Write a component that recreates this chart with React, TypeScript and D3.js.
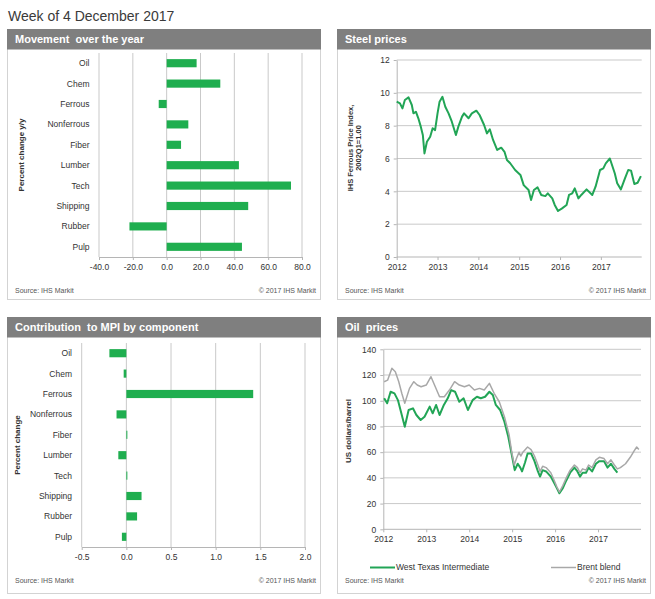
import React, { useEffect, useRef } from "react";
import * as d3 from "d3";

// ---- data ----
const components = [
  "Oil",
  "Chem",
  "Ferrous",
  "Nonferrous",
  "Fiber",
  "Lumber",
  "Tech",
  "Shipping",
  "Rubber",
  "Pulp",
];
const movementYoY = [17.7, 31.7, -4.7, 12.8, 8.5, 42.7, 73.5, 48.2, -22.0, 44.5];
const movementTicks = [-40, -20, 0, 20, 40, 60, 80];

const mpiContribution = [-0.19, -0.03, 1.42, -0.11, 0.01, -0.09, 0.005, 0.17, 0.12, -0.05];
const mpiTicks = [-0.5, 0, 0.5, 1.0, 1.5, 2.0];

const yearTicks = [2012, 2013, 2014, 2015, 2016, 2017];

const steelYears = [
  2012.0, 2012.08, 2012.14, 2012.2, 2012.29, 2012.37, 2012.41, 2012.47, 2012.53, 2012.59,
  2012.64, 2012.68, 2012.74, 2012.82, 2012.88, 2012.94, 2013.0, 2013.05, 2013.12, 2013.19,
  2013.27, 2013.35, 2013.45, 2013.51, 2013.6, 2013.65, 2013.76, 2013.84, 2013.95, 2014.03,
  2014.14, 2014.21, 2014.28, 2014.36, 2014.46, 2014.56, 2014.64, 2014.7, 2014.78, 2014.9,
  2015.03, 2015.11, 2015.23, 2015.29, 2015.36, 2015.45, 2015.54, 2015.64, 2015.7, 2015.81,
  2015.87, 2015.95, 2016.05, 2016.16, 2016.22, 2016.3, 2016.36, 2016.45, 2016.52, 2016.65,
  2016.79, 2016.87, 2016.98, 2017.06, 2017.12, 2017.22, 2017.34, 2017.4, 2017.49, 2017.59,
  2017.67, 2017.74, 2017.82, 2017.9, 2017.98,
];
const steelIndex = [
  9.46, 9.36, 9.05, 9.56, 9.72, 9.26, 8.75, 8.85, 8.45, 7.94,
  7.43, 6.31, 7.02, 7.33, 7.84, 7.73, 8.75, 9.46, 9.76, 9.15,
  8.75, 8.24, 7.43, 7.94, 8.55, 8.75, 8.45, 8.75, 8.91, 8.65,
  8.04, 7.53, 7.78, 7.13, 6.52, 6.66, 6.41, 5.91, 5.71, 5.3,
  5.0, 4.38, 4.08, 3.47, 4.08, 4.24, 3.78, 3.71, 3.88, 3.57,
  3.17, 2.8, 2.96, 3.17, 3.78, 3.88, 4.18, 3.57, 3.78, 4.12,
  3.78, 4.28, 5.3, 5.4, 5.7, 6.0, 5.1, 4.49, 4.12, 4.79,
  5.3, 5.26, 4.45, 4.52, 4.93,
];
const steelTicks = [0, 2, 4, 6, 8, 10, 12];

const wtiYears = [
  2012.02, 2012.09, 2012.17, 2012.26, 2012.34, 2012.42, 2012.5, 2012.59, 2012.69, 2012.77,
  2012.87, 2012.96, 2013.08, 2013.15, 2013.23, 2013.31, 2013.41, 2013.5, 2013.58, 2013.67,
  2013.77, 2013.87, 2013.97, 2014.08, 2014.18, 2014.27, 2014.37, 2014.47, 2014.55, 2014.62,
  2014.72, 2014.82, 2014.91, 2014.97, 2015.06, 2015.13, 2015.19, 2015.23, 2015.3, 2015.36,
  2015.44, 2015.52, 2015.6, 2015.65, 2015.71, 2015.79, 2015.9, 2015.98, 2016.04, 2016.1,
  2016.18, 2016.26, 2016.35, 2016.45, 2016.52, 2016.58, 2016.64, 2016.72, 2016.78, 2016.86,
  2016.95, 2017.03, 2017.14, 2017.22, 2017.3, 2017.38, 2017.45,
];
const wtiPrices = [
  101.9, 98, 107, 105.7, 100.5, 90.2, 79.8, 92.8, 94.1, 88.9,
  85, 87.6, 95.4, 90.2, 96.7, 88.9, 96.7, 101.9, 108.3, 107,
  99.2, 101.9, 92.8, 100.5, 103.1, 101.9, 103.1, 107, 104.4, 96.7,
  92.8, 83.7, 72, 61.7, 46, 51, 48, 45, 52, 59,
  59, 53, 45, 41, 46, 45, 41, 36, 32, 28,
  32, 38, 44, 48, 45, 41, 44, 44, 48, 45,
  51, 53, 53, 48, 51, 47, 44,
];

const brentYears = [
  2012.02, 2012.1, 2012.2, 2012.28, 2012.36, 2012.43, 2012.5, 2012.61, 2012.71, 2012.79,
  2012.88, 2013.0, 2013.11, 2013.21, 2013.31, 2013.42, 2013.54, 2013.66, 2013.77, 2013.89,
  2014.0, 2014.12, 2014.24, 2014.35, 2014.47, 2014.58, 2014.7, 2014.82, 2014.93, 2014.99,
  2015.05, 2015.1, 2015.16, 2015.2, 2015.25, 2015.36, 2015.44, 2015.52, 2015.6, 2015.65,
  2015.71, 2015.79, 2015.9, 2015.98, 2016.04, 2016.1, 2016.18, 2016.26, 2016.35, 2016.45,
  2016.52, 2016.58, 2016.64, 2016.72, 2016.78, 2016.86, 2016.95, 2017.03, 2017.14, 2017.22,
  2017.3, 2017.38, 2017.45, 2017.52, 2017.64, 2017.75, 2017.84, 2017.9, 2017.95,
];
const brentPrices = [
  114.8, 116, 125.2, 122.6, 114.8, 105.8, 98, 109.6, 114.8, 112.2,
  110.9, 112.2, 118.7, 110.9, 103.1, 103.1, 108.3, 114.8, 112.2, 110.9,
  112.2, 108.3, 109.6, 108.3, 113.5, 105.8, 99.2, 87.6, 73.3, 60,
  50, 55, 60, 57, 60, 64, 62, 57, 50, 45,
  49, 48, 44, 38, 33, 29, 34, 40, 46, 50,
  48, 44, 47, 46, 50, 48, 54, 56, 55, 51,
  54, 50, 47, 48, 51, 56, 61, 64, 62,
];
const oilTicks = [0, 20, 40, 60, 80, 100, 120, 140];

// ---- styles ----
const FONT = "'Liberation Sans', Arial, Helvetica, sans-serif";
const BAR_GREEN = "#1fae4f";
const LINE_GREEN = "#22a556";
const BRENT_GRAY = "#a8a8a8";
const GRID = "#c9c9c9";
const AXIS = "#b5b5b5";
const TEXT = "#333333";
const HEADER = "#7f7f7f";

type Sel = d3.Selection<SVGSVGElement, unknown, null, undefined>;

function drawPanel(
  svg: Sel,
  x0: number,
  y0: number,
  x1: number,
  y1: number,
  title: string,
  footerY: number
) {
  const g = svg.append("g");
  g.append("rect")
    .attr("x", x0 + 0.5)
    .attr("y", y0 + 0.5)
    .attr("width", x1 - x0)
    .attr("height", y1 - y0)
    .attr("fill", "white")
    .attr("stroke", "#d3d3d3");
  g.append("rect")
    .attr("x", x0)
    .attr("y", y0)
    .attr("width", x1 - x0 + 1)
    .attr("height", 20.5)
    .attr("fill", HEADER);
  g.append("text")
    .attr("x", x0 + 8)
    .attr("y", y0 + 14)
    .attr("fill", "white")
    .attr("font-size", 11)
    .attr("font-weight", "bold")
    .style("white-space", "pre")
    .text(title);
  g.append("text")
    .attr("x", x0 + 8)
    .attr("y", footerY)
    .attr("fill", "#555")
    .attr("font-size", 7)
    .text("Source: IHS Markit");
  g.append("text")
    .attr("x", x1 - 4)
    .attr("y", footerY)
    .attr("text-anchor", "end")
    .attr("fill", "#555")
    .attr("font-size", 7)
    .text("\u00a9 2017 IHS Markit");
}

function styleAxis(g: d3.Selection<SVGGElement, unknown, null, undefined>) {
  g.select(".domain").attr("stroke", AXIS);
  g.selectAll(".tick line").attr("stroke", AXIS);
  g.selectAll(".tick text")
    .attr("fill", TEXT)
    .attr("font-size", 8.5)
    .attr("font-family", FONT);
}

function drawBars(
  svg: Sel,
  values: number[],
  ticks: number[],
  xRange: [number, number],
  yRange: [number, number],
  labelRight: number,
  titleX: number,
  title: string
) {
  const x = d3
    .scaleLinear()
    .domain([ticks[0], ticks[ticks.length - 1]])
    .range(xRange);
  const y = d3
    .scaleBand<string>()
    .domain(components)
    .range(yRange)
    .paddingInner(0.6)
    .paddingOuter(0.3);

  const g = svg.append("g");

  g.append("g")
    .selectAll("line")
    .data(ticks)
    .join("line")
    .attr("x1", (d) => x(d))
    .attr("x2", (d) => x(d))
    .attr("y1", yRange[0])
    .attr("y2", yRange[1])
    .attr("stroke", GRID);

  g.append("g")
    .selectAll("rect")
    .data(values)
    .join("rect")
    .attr("x", (d) => x(Math.min(0, d)))
    .attr("width", (d) => Math.max(1, Math.abs(x(d) - x(0))))
    .attr("y", (_, i) => y(components[i])!)
    .attr("height", y.bandwidth())
    .attr("fill", BAR_GREEN);

  const xa = g
    .append("g")
    .attr("transform", `translate(0,${yRange[1]})`)
    .call(
      d3
        .axisBottom(x)
        .tickValues(ticks)
        .tickFormat((d) => (+d).toFixed(1))
        .tickSize(3)
        .tickSizeOuter(0)
        .tickPadding(4)
    );
  styleAxis(xa);

  g.append("g")
    .selectAll("text")
    .data(components)
    .join("text")
    .attr("x", labelRight)
    .attr("y", (d) => y(d)! + y.bandwidth() / 2)
    .attr("dy", "0.35em")
    .attr("text-anchor", "end")
    .attr("font-size", 8.5)
    .attr("fill", TEXT)
    .text((d) => d);

  g.append("text")
    .attr("transform", `translate(${titleX},${(yRange[0] + yRange[1]) / 2}) rotate(-90)`)
    .attr("text-anchor", "middle")
    .attr("dy", "0.35em")
    .attr("font-size", 8)
    .attr("font-weight", "bold")
    .attr("fill", TEXT)
    .text(title);
}

function lineAxes(
  g: d3.Selection<SVGGElement, unknown, null, undefined>,
  x: d3.ScaleLinear<number, number>,
  y: d3.ScaleLinear<number, number>,
  yTicks: number[]
) {
  const [xl, xr] = x.range();
  g.append("g")
    .selectAll("line")
    .data(yTicks.slice(1))
    .join("line")
    .attr("x1", xl)
    .attr("x2", xr)
    .attr("y1", (d) => y(d))
    .attr("y2", (d) => y(d))
    .attr("stroke", GRID);

  const ya = g
    .append("g")
    .attr("transform", `translate(${xl},0)`)
    .call(d3.axisLeft(y).tickValues(yTicks).tickSize(3).tickSizeOuter(0).tickPadding(4));
  styleAxis(ya);

  const xa = g
    .append("g")
    .attr("transform", `translate(0,${y.range()[0]})`)
    .call(
      d3
        .axisBottom(x)
        .tickValues(yearTicks)
        .tickFormat((d) => String(d))
        .tickSize(3)
        .tickSizeOuter(0)
        .tickPadding(4)
    );
  styleAxis(xa);
  xa.select(".domain").attr("d", `M${xl},0H${xr}`);
}

export default function App() {
  const ref = useRef<SVGSVGElement>(null);

  useEffect(() => {
    const svg = d3.select(ref.current!) as Sel;
    svg.selectAll("*").remove();
    svg.attr("width", 655).attr("height", 599).style("font-family", FONT);

    svg.append("rect").attr("width", 655).attr("height", 599).attr("fill", "white");
    svg
      .append("text")
      .attr("x", 8)
      .attr("y", 21)
      .attr("font-size", 14)
      .attr("fill", "#3a3a3a")
      .text("Week of 4 December 2017");

    drawPanel(svg, 7, 29, 320, 299, "Movement  over the year", 292.5);
    drawPanel(svg, 337, 29, 650, 299, "Steel prices", 292.5);
    drawPanel(svg, 7, 317, 320, 593, "Contribution  to MPI by component", 583);
    drawPanel(svg, 337, 317, 650, 593, "Oil  prices", 583);

    drawBars(svg, movementYoY, movementTicks, [99, 302], [53, 257], 89.5, 21, "Percent change y/y");
    drawBars(svg, mpiContribution, mpiTicks, [81.7, 305], [343, 547], 72, 17, "Percent change");

    // Steel prices
    {
      const x = d3.scaleLinear().domain([2012, 2018]).range([396.7, 641.7]);
      const y = d3.scaleLinear().domain([0, 12]).range([257, 60]);
      const g = svg.append("g");
      lineAxes(g, x, y, steelTicks);
      const line = d3
        .line<number>()
        .x((d) => x(d))
        .y((_, i) => y(steelIndex[i]))
        .curve(d3.curveLinear);
      g.append("path")
        .attr("d", line(steelYears))
        .attr("fill", "none")
        .attr("stroke", LINE_GREEN)
        .attr("stroke-width", 2)
        .attr("stroke-linejoin", "round");
      const t = g
        .append("text")
        .attr("transform", `translate(354,148) rotate(-90)`)
        .attr("text-anchor", "middle")
        .attr("font-size", 7.5)
        .attr("font-weight", "bold")
        .attr("fill", TEXT);
      t.append("tspan").attr("x", 0).attr("dy", "-0.2em").text("IHS Ferrous Price Index,");
      t.append("tspan").attr("x", 0).attr("dy", "1.1em").text("2002Q1=1.00");
    }

    // Oil prices
    {
      const x = d3.scaleLinear().domain([2012, 2018]).range([383.3, 641]);
      const y = d3.scaleLinear().domain([0, 140]).range([529.3, 349.3]);
      const g = svg.append("g");
      lineAxes(g, x, y, oilTicks);
      const wti = d3
        .line<number>()
        .x((d) => x(d))
        .y((_, i) => y(wtiPrices[i]));
      const brent = d3
        .line<number>()
        .x((d) => x(d))
        .y((_, i) => y(brentPrices[i]));
      g.append("path")
        .attr("d", wti(wtiYears))
        .attr("fill", "none")
        .attr("stroke", LINE_GREEN)
        .attr("stroke-width", 2)
        .attr("stroke-linejoin", "round");
      g.append("path")
        .attr("d", brent(brentYears))
        .attr("fill", "none")
        .attr("stroke", BRENT_GRAY)
        .attr("stroke-width", 1.5)
        .attr("stroke-linejoin", "round");
      g.append("text")
        .attr("transform", `translate(348,431) rotate(-90)`)
        .attr("text-anchor", "middle")
        .attr("dy", "0.35em")
        .attr("font-size", 8)
        .attr("font-weight", "bold")
        .attr("fill", TEXT)
        .text("US dollars/barrel");

      const legend = [
        { name: "West Texas Intermediate", color: LINE_GREEN, width: 2, x: 370 },
        { name: "Brent blend", color: BRENT_GRAY, width: 1.5, x: 551 },
      ];
      const lg = g.append("g").selectAll("g").data(legend).join("g");
      lg.append("line")
        .attr("x1", (d) => d.x)
        .attr("x2", (d) => d.x + 25)
        .attr("y1", 567.5)
        .attr("y2", 567.5)
        .attr("stroke", (d) => d.color)
        .attr("stroke-width", (d) => d.width);
      lg.append("text")
        .attr("x", (d) => d.x + 26)
        .attr("y", 567.5)
        .attr("dy", "0.35em")
        .attr("font-size", 8.5)
        .attr("fill", TEXT)
        .text((d) => d.name);
    }
  }, []);

  return <svg ref={ref} style={{ position: "absolute", left: 0, top: 0 }} />;
}
